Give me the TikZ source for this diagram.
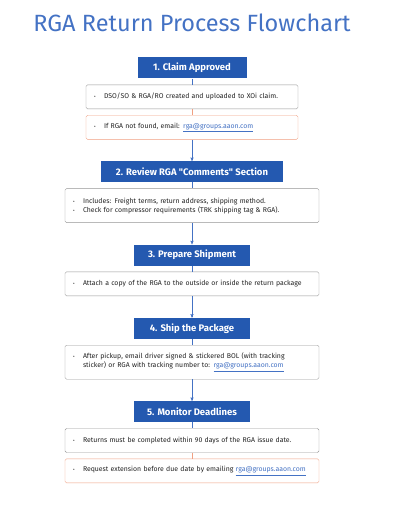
\documentclass[tikz,border=0pt]{standalone}
\usepackage{fontspec}
\setmainfont{Fira Sans}
\usetikzlibrary{arrows,positioning}
\definecolor{rgablue}{RGB}{36,89,176}
\definecolor{linkblue}{RGB}{68,114,196}
\definecolor{notegray}{RGB}{150,150,150}
\definecolor{noteorange}{RGB}{240,160,130}
\definecolor{txtgray}{RGB}{35,35,35}
\tikzstyle{stepbox}=[rectangle,fill=rgablue,text=white,
  font=\fontsize{9.5}{11}\selectfont\bfseries,minimum height=21pt,inner sep=0pt]
\tikzstyle{note}=[rectangle,rounded corners=1.5pt,thin,draw=notegray,fill=white,
  text=txtgray,font=\fontsize{6.9}{9}\selectfont,align=left,
  inner xsep=8pt,inner ysep=0pt,minimum height=24pt]
\tikzstyle{warn}=[note,draw=noteorange]
\newcommand{\bul}{\makebox[10pt][l]{\fontsize{5}{5}\selectfont\textbullet}}
\newcommand{\rgamail}{\textcolor{linkblue}{\underline{rga@groups.aaon.com}}}

\begin{document}
\begin{tikzpicture}[x=1pt,y=-1pt,node distance=6pt,>=stealth']
  \useasboundingbox (0,0) rectangle (400,516);
  \node[text=linkblue,font=\fontsize{23.5}{28}\selectfont] (title) at (192,23)
    {RGA Return Process Flowchart};

  % step 1
  \node[stepbox,minimum width=109pt] (claim) at (192,68) {1. Claim Approved};
  \node[note,below=of claim,text width=196pt] (upload)
    {\bul DSO/SO \& RGA/RO created and uploaded to XOi claim.};
  \node[warn,below=of upload,text width=196pt] (notfound)
    {\bul If RGA not found, email: \rgamail};

  % step 2
  \node[stepbox,minimum width=182pt,below=21.5pt of notfound] (review)
    {2. Review RGA \textquotedbl Comments\textquotedbl\ Section};
  \node[note,below=of review,text width=238pt,minimum height=34pt] (comments)
    {\bul Includes: Freight terms, return address, shipping method.\\
     \bul Check for compressor requirements (TRK shipping tag \& RGA).};

  % step 3
  \node[stepbox,minimum width=116pt,below=21.5pt of comments] (prepare)
    {3. Prepare Shipment};
  \node[note,below=of prepare,text width=238pt] (attach)
    {\bul Attach a copy of the RGA to the outside or inside the return package};

  % step 4
  \node[stepbox,minimum width=116pt,below=21.5pt of attach] (ship)
    {4. Ship the Package};
  \node[note,below=of ship,text width=238pt,minimum height=34pt] (pickup)
    {\bul After pickup, email driver signed \& stickered BOL (with tracking\\
     \hspace*{10pt}sticker) or RGA with tracking number to: \rgamail};

  % step 5
  \node[stepbox,minimum width=116pt,below=21.5pt of pickup] (monitor)
    {5. Monitor Deadlines};
  \node[note,below=of monitor,text width=238pt] (deadline)
    {\bul Returns must be completed within 90 days of the RGA issue date.};
  \node[warn,below=of deadline,text width=238pt] (extend)
    {\bul Request extension before due date by emailing \rgamail};

  % connectors
  \draw[linkblue] (claim) -- (upload);
  \draw[noteorange] (upload) -- (notfound);
  \draw[linkblue,->] (notfound) -- (review);
  \draw[linkblue] (review) -- (comments);
  \draw[linkblue,->] (comments) -- (prepare);
  \draw[linkblue] (prepare) -- (attach);
  \draw[linkblue,->] (attach) -- (ship);
  \draw[linkblue] (ship) -- (pickup);
  \draw[linkblue,->] (pickup) -- (monitor);
  \draw[linkblue] (monitor) -- (deadline);
  \draw[noteorange] (deadline) -- (extend);
\end{tikzpicture}
\end{document}
